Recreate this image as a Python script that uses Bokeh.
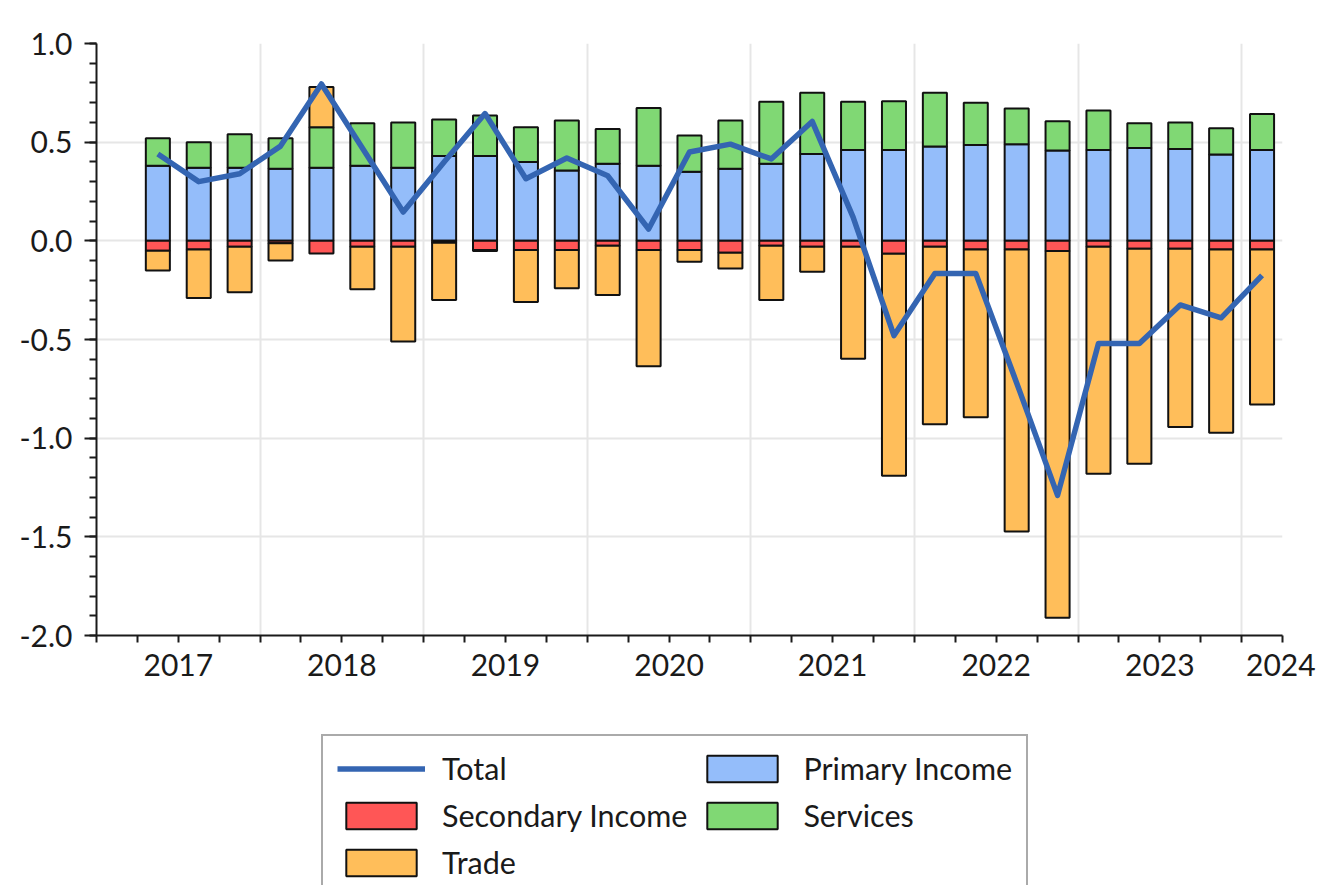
from bokeh.plotting import figure
from bokeh.layouts import column
from bokeh.models import (ColumnDataSource, Range1d, FixedTicker, LinearAxis, Legend,
                          LegendItem, PrintfTickFormatter, CustomJSTickFormatter, Grid)
from bokeh.embed import file_html
from bokeh.resources import INLINE

# ---------------- data ----------------
quarters = ["2017Q2", "2017Q3", "2017Q4",
            "2018Q1", "2018Q2", "2018Q3", "2018Q4",
            "2019Q1", "2019Q2", "2019Q3", "2019Q4",
            "2020Q1", "2020Q2", "2020Q3", "2020Q4",
            "2021Q1", "2021Q2", "2021Q3", "2021Q4",
            "2022Q1", "2022Q2", "2022Q3", "2022Q4",
            "2023Q1", "2023Q2", "2023Q3", "2023Q4",
            "2024Q1"]

primary_income = [0.38, 0.37, 0.37, 0.365, 0.37, 0.38, 0.37, 0.43, 0.43, 0.40,
                  0.357, 0.39, 0.38, 0.35, 0.365, 0.39, 0.44, 0.46, 0.46, 0.478,
                  0.486, 0.49, 0.458, 0.46, 0.47, 0.466, 0.438, 0.46]

services = [0.14, 0.13, 0.17, 0.155, 0.206, 0.216, 0.23, 0.185, 0.205, 0.176,
            0.253, 0.177, 0.293, 0.184, 0.245, 0.315, 0.31, 0.245, 0.247, 0.272,
            0.214, 0.18, 0.148, 0.20, 0.126, 0.134, 0.132, 0.183]

secondary_income = [-0.05, -0.044, -0.03, -0.012, -0.064, -0.03, -0.03, -0.01, -0.047, -0.047,
                    -0.047, -0.025, -0.047, -0.047, -0.06, -0.025, -0.03, -0.03, -0.065, -0.03,
                    -0.044, -0.044, -0.052, -0.03, -0.04, -0.04, -0.044, -0.044]

trade = [-0.10, -0.246, -0.23, -0.088, 0.204, -0.215, -0.48, -0.29, -0.005, -0.263,
         -0.193, -0.25, -0.589, -0.059, -0.08, -0.275, -0.127, -0.567, -1.125, -0.90,
         -0.85, -1.429, -1.858, -1.15, -1.09, -0.904, -0.929, -0.786]

total = [0.44, 0.30, 0.34, 0.48, 0.795, 0.47, 0.146, 0.40, 0.645, 0.315,
         0.42, 0.33, 0.06, 0.45, 0.49, 0.415, 0.605, 0.12, -0.48, -0.165,
         -0.165, -0.72, -1.29, -0.52, -0.52, -0.325, -0.39, -0.175]

years = [2017, 2018, 2019, 2020, 2021, 2022, 2023, 2024]
y_ticks = [-2.0, -1.5, -1.0, -0.5, 0.0, 0.5, 1.0]

# ---------------- styles ----------------
C_PRIMARY = "#94bdfa"
C_SERVICES = "#80d874"
C_SECONDARY = "#ff5656"
C_TRADE = "#ffbe5a"
C_TOTAL = "#3465b2"
FONT = "Lato"
TXT = "#1a1a1a"
GRID = "#e6e6e6"

# ---------------- derived positions (quarter midpoints in year units) ----------------
x = [int(q[:4]) + (int(q[-1]) - 0.5) / 4.0 for q in quarters]
n = len(x)
svc_top = [primary_income[i] + services[i] for i in range(n)]
trade_bottom = [svc_top[i] if trade[i] > 0 else secondary_income[i] + trade[i] for i in range(n)]
trade_top = [svc_top[i] + trade[i] if trade[i] > 0 else secondary_income[i] for i in range(n)]

src = ColumnDataSource(dict(
    x=x, zero=[0.0] * n, primary=primary_income, svc_top=svc_top,
    secondary=secondary_income, trade_bottom=trade_bottom, trade_top=trade_top,
    total=total))

x_start = years[0]
x_end = years[-1] + 0.25

W = 1316
p = figure(width=W, height=700,
           x_range=Range1d(x_start, x_end), y_range=Range1d(-2.0, 1.0),
           output_backend="svg", toolbar_location=None,
           x_axis_type=None,
           min_border_left=96, min_border_right=34, min_border_top=43, min_border_bottom=65)
p.outline_line_color = None
p.background_fill_color = "white"
p.border_fill_color = "white"

BW = 0.147
bar_style = dict(line_color="#111111", line_width=2)
common = dict(x="x", width=BW, source=src, **bar_style)
r_primary = p.vbar(bottom="zero", top="primary", fill_color=C_PRIMARY, **common)
r_services = p.vbar(bottom="primary", top="svc_top", fill_color=C_SERVICES, **common)
r_secondary = p.vbar(bottom="secondary", top="zero", fill_color=C_SECONDARY, **common)
r_trade = p.vbar(bottom="trade_bottom", top="trade_top", fill_color=C_TRADE, **common)
line_style = dict(line_color=C_TOTAL, line_width=5.5, line_join="round")
r_total = p.line(x="x", y="total", source=src, **line_style)

# ---------------- y axis ----------------
yax = p.yaxis[0]
minor_y = [round(-2.0 + 0.1 * k, 2) for k in range(31)]
yax.ticker = FixedTicker(ticks=y_ticks, minor_ticks=minor_y)
yax.formatter = PrintfTickFormatter(format="%.1f")
yax.axis_line_color = TXT
yax.axis_line_width = 2
yax.major_tick_line_color = TXT
yax.major_tick_line_width = 2
yax.minor_tick_line_color = TXT
yax.minor_tick_line_width = 2
yax.major_tick_out = 12
yax.major_tick_in = 0
yax.minor_tick_out = 7
yax.minor_tick_in = 0
yax.major_label_text_font = FONT
yax.major_label_text_font_size = "30px"
yax.major_label_text_color = TXT
yax.major_label_standoff = 12

p.ygrid.ticker = FixedTicker(ticks=[t for t in y_ticks if -2.0 < t < 1.0])
p.ygrid.grid_line_color = GRID
p.ygrid.grid_line_width = 2

# ---------------- x axes ----------------
quarter_bounds = [x_start + 0.25 * k for k in range(int(round((x_end - x_start) / 0.25)) + 1)]
label_pos = [min(yr + 0.5, x_end - 0.01) for yr in years]

# labelled axis next to the frame: quarter ticks (short) + year labels centred in each year
x_label_axis = LinearAxis(
    ticker=FixedTicker(ticks=label_pos, minor_ticks=quarter_bounds),
    formatter=CustomJSTickFormatter(code="return String(Math.floor(tick));"),
    axis_line_color=TXT, axis_line_width=2,
    major_tick_line_color=None, major_tick_out=0, major_tick_in=0,
    minor_tick_line_color=TXT, minor_tick_line_width=2, minor_tick_out=7, minor_tick_in=0,
    major_label_text_font=FONT, major_label_text_font_size="30px",
    major_label_text_color=TXT, major_label_standoff=11)
p.add_layout(x_label_axis, "below")

# longer ticks at the year boundaries, drawn on the frame's bottom edge
x_year_ticks = LinearAxis(
    fixed_location=-2.0,
    ticker=FixedTicker(ticks=[], minor_ticks=years),
    axis_line_color=None,
    major_tick_line_color=None, major_tick_out=0, major_tick_in=0,
    minor_tick_line_color=TXT, minor_tick_line_width=2, minor_tick_out=12, minor_tick_in=0)
p.add_layout(x_year_ticks, "below")

p.add_layout(Grid(dimension=0, ticker=FixedTicker(ticks=years[1:]),
                  grid_line_color=GRID, grid_line_width=2))

# ---------------- legend (own strip below the chart) ----------------
p2 = figure(width=W, height=185, x_range=Range1d(0, 1), y_range=Range1d(0, 1),
            output_backend="svg", toolbar_location=None,
            x_axis_type=None, y_axis_type=None,
            min_border_left=96, min_border_right=34, min_border_top=0, min_border_bottom=0)
p2.outline_line_color = None
p2.grid.visible = False
# key renderers with no drawable point, used only to draw the legend swatches
nan = float("nan")
k_total = p2.line(x=[nan, nan], y=[nan, nan], **line_style)
k_primary = p2.vbar(x=[nan], top=[nan], bottom=[nan], width=0.1, fill_color=C_PRIMARY, **bar_style)
k_secondary = p2.vbar(x=[nan], top=[nan], bottom=[nan], width=0.1, fill_color=C_SECONDARY, **bar_style)
k_services = p2.vbar(x=[nan], top=[nan], bottom=[nan], width=0.1, fill_color=C_SERVICES, **bar_style)
k_trade = p2.vbar(x=[nan], top=[nan], bottom=[nan], width=0.1, fill_color=C_TRADE, **bar_style)

legend = Legend(items=[
    LegendItem(label="Total", renderers=[k_total]),
    LegendItem(label="Secondary Income", renderers=[k_secondary]),
    LegendItem(label="Trade", renderers=[k_trade]),
    LegendItem(label="Primary Income", renderers=[k_primary]),
    LegendItem(label="Services", renderers=[k_services]),
], ncols=2, location=(225, -11))
legend.glyph_width = 88
legend.glyph_height = 33
legend.label_height = 33
legend.label_standoff = 17
legend.spacing = 11
legend.padding = 14
legend.margin = 0
legend.label_text_font = FONT
legend.label_text_font_size = "30.5px"
legend.label_text_color = TXT
legend.border_line_color = "#555555"
legend.border_line_width = 2
legend.background_fill_alpha = 1.0
p2.add_layout(legend, "center")

layout = column(p, p2, spacing=0)
open("out.html", "w").write(file_html(layout, INLINE))
